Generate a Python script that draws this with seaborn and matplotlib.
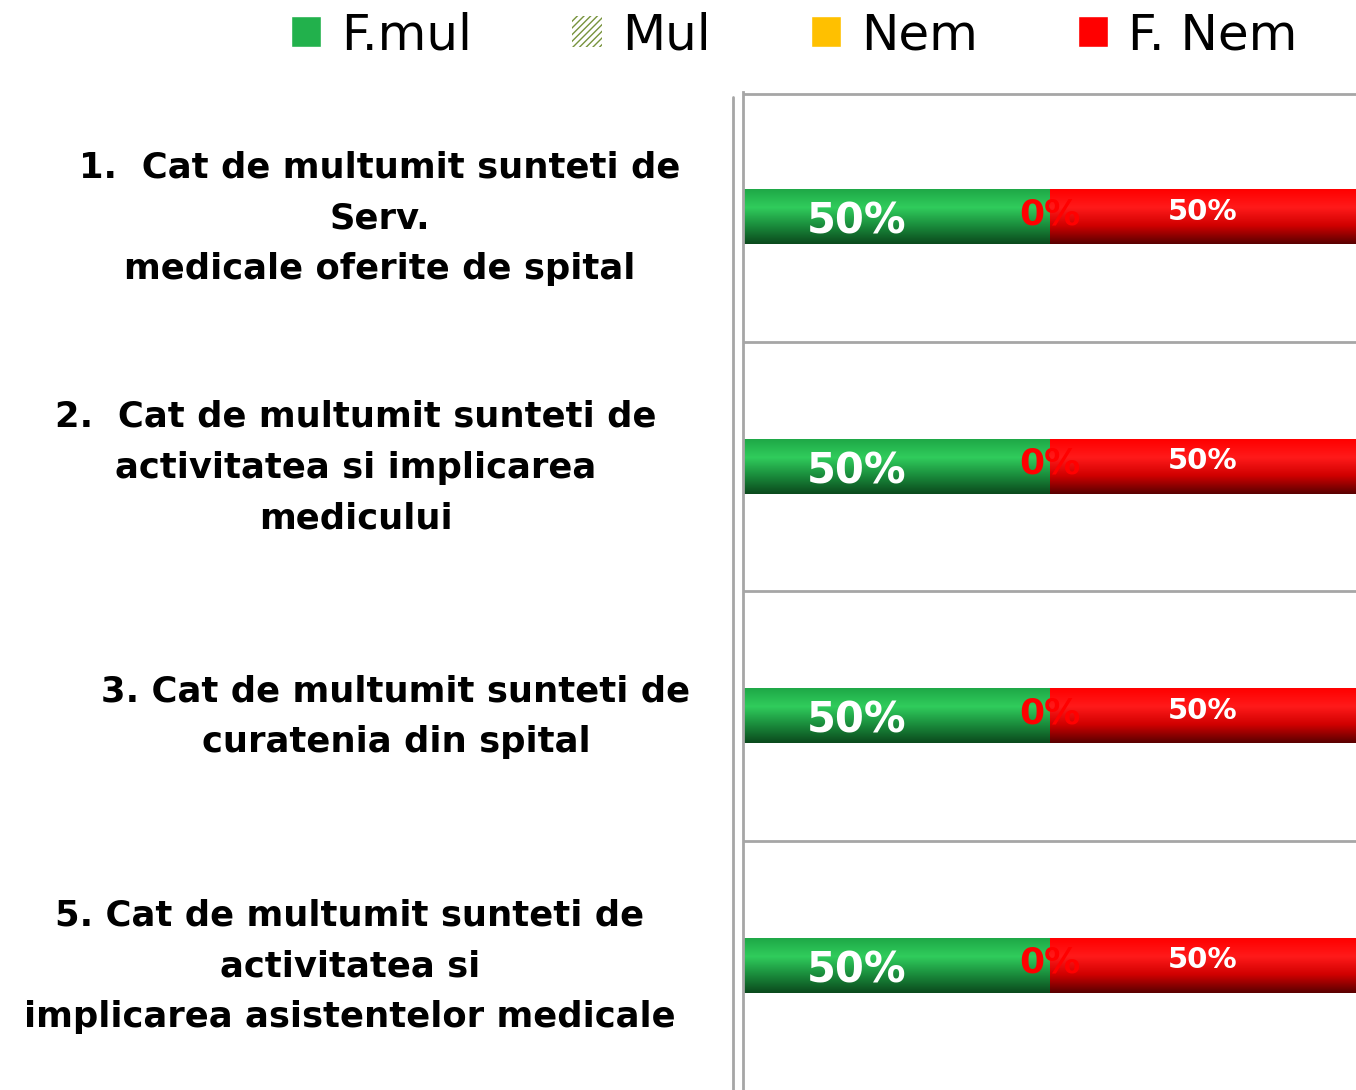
import numpy as np
import pandas as pd
import matplotlib
matplotlib.use("Agg")
import matplotlib.pyplot as plt
import matplotlib.transforms as mtrans
import seaborn as sns
from matplotlib.patches import Patch
from matplotlib.colors import LinearSegmentedColormap

categories = [
    "1.  Cat de multumit sunteti de\nServ.\nmedicale oferite de spital",
    "2.  Cat de multumit sunteti de\nactivitatea si implicarea\nmedicului",
    "3. Cat de multumit sunteti de\ncuratenia din spital",
    "5. Cat de multumit sunteti de\nactivitatea si\nimplicarea asistentelor medicale",
]
series = ["F.mul", "Mul", "Nem", "F. Nem"]
f_mul = [0.50, 0.50, 0.50, 0.50]
mul = [0.0, 0.0, 0.0, 0.0]
nem = [0.0, 0.0, 0.0, 0.0]
f_nem = [0.50, 0.50, 0.50, 0.50]

colors = {"F.mul": "#22b14c", "Mul": "#77933c", "Nem": "#ffc000", "F. Nem": "#ff0000"}
grad = {
    "F.mul": ["#1fa847", "#30cc5c", "#1a8c3c", "#0b4a1d"],
    "Mul": ["#8aa84a", "#9bbd55", "#6a8433", "#3b4a1c"],
    "Nem": ["#ffc000", "#ffd040", "#d9a000", "#7a5a00"],
    "F. Nem": ["#ff0000", "#ff1a1a", "#d00000", "#5a0000"],
}

df = pd.DataFrame({"cat": categories, "F.mul": f_mul, "Mul": mul, "Nem": nem, "F. Nem": f_nem})
cum = df[series].cumsum(axis=1)

sns.set_style("white")
plt.rcParams["font.family"] = ["DejaVu Sans"]
plt.rcParams["text.color"] = "black"
plt.rcParams["ytick.color"] = "black"
plt.rcParams["ytick.labelcolor"] = "black"
fig = plt.figure(figsize=(13.56, 10.90), dpi=100)
ax_left = 743 / 1356
ax = fig.add_axes([ax_left, 0.0, 1 - ax_left, 1 - 92 / 1090])

bar_h = 0.22
containers = {}
for s in reversed(series):
    sns.barplot(x=cum[s], y=df["cat"], orient="h", color=colors[s], width=bar_h,
                ax=ax, saturation=1, edgecolor="none")
    containers[s] = ax.containers[-1]

# gradient shading on bars
for s in series:
    cmap = LinearSegmentedColormap.from_list(s, grad[s])
    for i, p in enumerate(containers[s].patches):
        if df[s].iloc[i] <= 0:
            continue
        left = cum[s].iloc[i] - df[s].iloc[i]
        y0 = p.get_y()
        h = p.get_height()
        g = np.linspace(0, 1, 100).reshape(-1, 1)
        im = ax.imshow(g, cmap=cmap, aspect="auto",
                       extent=(left, left + df[s].iloc[i], y0 + h, y0),
                       zorder=p.get_zorder() + 0.1)
        im.set_clip_path(p)

ax.set_xlim(0, 1.0)
ax.set_ylim(3.5, -0.5)
ax.set_xlabel("")
ax.set_ylabel("")
ax.set_xticks([])
for sp in ["top", "right", "bottom"]:
    ax.spines[sp].set_visible(False)
ax.spines["left"].set_color("#a6a6a6")
ax.spines["left"].set_linewidth(2)
for yb in [-0.49, 0.5, 1.5, 2.5]:
    ax.axhline(yb, color="#a6a6a6", lw=2, zorder=0)
ax.axvline(-0.016, ymax=0.995, color="#a6a6a6", lw=2, clip_on=False)

ax.tick_params(axis="y", length=0, pad=270)
offsets_px = [12, -12, 28, -18]
for lab, dx in zip(ax.get_yticklabels(), offsets_px):
    lab.set_ha("center")
    lab.set_multialignment("center")
    lab.set_fontsize(25.5)
    lab.set_fontweight("bold")
    lab.set_color("black")
    lab.set_linespacing(1.62)
    lab.set_transform(lab.get_transform() +
                      mtrans.ScaledTranslation(dx / 100, 0.105, fig.dpi_scale_trans))

# data labels
for i in range(len(categories)):
    ax.text(f_mul[i] * 0.37, i + 0.02, f"{f_mul[i]:.0%}", ha="center", va="center",
            color="white", fontsize=30, fontweight="bold", zorder=10)
    ax.text(cum["Nem"].iloc[i], i - 0.01, f"{nem[i]:.0%}", ha="center", va="center",
            color="#ff0000", fontsize=26, fontweight="bold", zorder=10)
    ax.text(cum["Nem"].iloc[i] + f_nem[i] * 0.5, i - 0.02, f"{f_nem[i]:.0%}", ha="center",
            va="center", color="white", fontsize=21, fontweight="bold", zorder=10)

handles = [Patch(facecolor=colors["F.mul"]),
           Patch(facecolor="white", edgecolor=colors["Mul"], hatch="/////", lw=0),
           Patch(facecolor=colors["Nem"]),
           Patch(facecolor=colors["F. Nem"])]
leg = fig.legend(handles, series, loc="upper center", bbox_to_anchor=(0.5855, 1.031), ncol=4,
                 frameon=False, handlelength=0.6, handleheight=0.6,
                 handletextpad=0.4, columnspacing=2.0,
                 prop={"family": ["DejaVu Sans"], "size": 36})
for t in leg.get_texts():
    t.set_color("black")

fig.savefig("out.png", dpi=100)
